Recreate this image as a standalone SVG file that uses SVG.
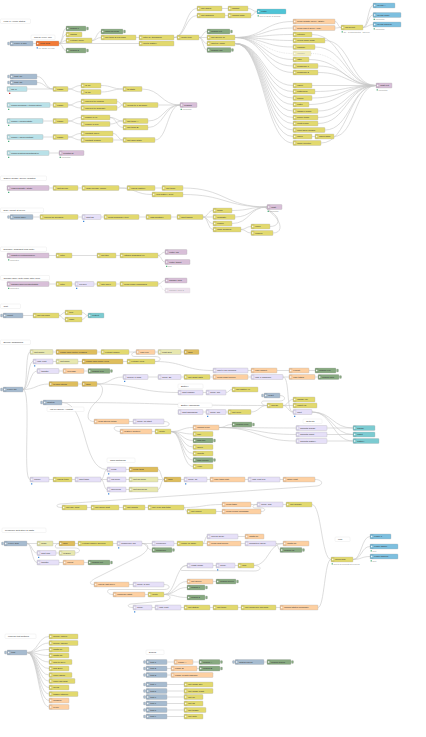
<svg xmlns="http://www.w3.org/2000/svg" xmlns:xlink="http://www.w3.org/1999/xlink" width="426" height="737" viewBox="0 0 426 737">
<style>
.n rect{stroke:#aaa;stroke-width:.3px;rx:.8px;ry:.8px}
.n text{font-family:"Liberation Sans",Arial,sans-serif;font-size:2.4px;fill:#333}
.n text.s{font-size:1.9px;fill:#888}
.cm rect{fill:#fff;stroke:#ddd}
.ij rect{fill:#a6bbcf}.db rect{fill:#87a980}.fn rect{fill:#fdd0a2}.sw rect{fill:#e2d96e}
.pl rect{fill:#e7e7ae}.gd rect{fill:#debd5c}.lv rect{fill:#e6e0f8}.pu rect{fill:#d8bfd8}
.lc rect{fill:#b9e1e8}.cy rect{fill:#7ccbd1}.bc rect{fill:#4fc4d6}.bl rect{fill:#7dbfdf}.or rect{fill:#f27a36}
.off{opacity:.45}
.sb{fill:#3e88d9}.sg{fill:#4fae7f}.sr{fill:#d02020}
#wires path{fill:none;stroke:#c6c6c6;stroke-width:.6px}
#wires path.d{stroke-dasharray:1 .8;stroke:#d8d8d8}
</style>
<defs>
<g id="i"><path d="M.8 0H3.3V5H.8A.8.8 0 0 1 0 4.2V.8A.8.8 0 0 1 .8 0Z" fill="#000" fill-opacity=".07"/><path d="M1 1.7h1.4v1.6H1z" fill="#fff" fill-opacity=".85"/></g>
</defs>
<rect width="426" height="737" fill="#fff"/>
<g id="wires">
<path d="M33 43.5H36"/><path d="M59 43.5C62.5 43.5 62.5 28.5 66 28.5"/><path d="M59 43.5C62.5 43.5 62.5 34.5 66 34.5"/><path d="M59 43.5C62.5 43.5 62.5 40.5 66 40.5"/><path d="M59 43.5C62.5 43.5 62.5 50.5 66 50.5"/><path d="M59 43.5H139"/>
<path d="M92 40.5C96.5 40.5 96.5 31.5 101 31.5"/><path d="M92 40.5C96.5 40.5 96.5 37.5 101 37.5"/><path d="M136 37.5H139"/><path d="M174 37.5H177"/>
<path d="M174 37.5C185.5 37.5 185.5 8.5 197 8.5"/><path d="M174 37.5C185.5 37.5 185.5 15.5 197 15.5"/>
<path d="M199 37.5C203 37.5 203 31.5 207 31.5"/><path d="M199 37.5H207"/><path d="M199 37.5C203 37.5 203 43.5 207 43.5"/><path d="M199 37.5C203 37.5 203 50 207 50"/>
<path d="M222 8.5H228"/><path d="M248 8.5C252.5 8.5 252.5 11.5 257 11.5"/><path d="M225 15.5H228"/><path d="M251 15.5C254 15.5 254 11.5 257 11.5"/>
<path d="M235 37.5C264 37.5 264 21.5 293 21.5"/><path d="M235 37.5C264 37.5 264 28 293 28"/>
<path d="M235 37.5C264 37.5 264 34.5 293 34.5"/><path d="M235 37.5C264 37.5 264 40.5 293 40.5"/><path d="M235 37.5C264 37.5 264 47 293 47"/><path class="d" d="M235 37.5C264 37.5 264 53.5 293 53.5"/><path d="M235 37.5C264 37.5 264 59.5 293 59.5"/><path d="M235 37.5C264 37.5 264 66 293 66"/><path d="M235 37.5C264 37.5 264 72.5 293 72.5"/>
<path d="M235 43.5C264 43.5 264 85.5 293 85.5"/><path d="M235 43.5C264 43.5 264 91.5 293 91.5"/><path d="M235 43.5C264 43.5 264 98 293 98"/><path d="M235 43.5C264 43.5 264 104.5 293 104.5"/><path d="M235 43.5C264 43.5 264 111 293 111"/><path d="M235 43.5C264 43.5 264 117.5 293 117.5"/><path d="M235 43.5C264 43.5 264 123.5 293 123.5"/><path d="M235 43.5C264 43.5 264 130 293 130"/><path d="M235 43.5C264 43.5 264 136.5 293 136.5"/><path d="M235 43.5C264 43.5 264 143 293 143"/>
<path d="M312 34.5C344 34.5 344 85.5 376 85.5"/><path d="M325 40.5C350.5 40.5 350.5 85.5 376 85.5"/><path d="M315 47C345.5 47 345.5 85.5 376 85.5"/><path class="d" d="M311 53.5C343.5 53.5 343.5 85.5 376 85.5"/><path d="M309 59.5C342.5 59.5 342.5 85.5 376 85.5"/><path d="M318 66C347 66 347 85.5 376 85.5"/><path d="M318 72.5C347 72.5 347 85.5 376 85.5"/>
<path d="M312 85.5H376"/><path d="M315 91.5C345.5 91.5 345.5 85.5 376 85.5"/><path d="M312 98C344 98 344 85.5 376 85.5"/><path d="M309 104.5C342.5 104.5 342.5 85.5 376 85.5"/><path d="M318 111C347 111 347 85.5 376 85.5"/><path d="M318 117.5C347 117.5 347 85.5 376 85.5"/><path d="M318 123.5C347 123.5 347 85.5 376 85.5"/><path d="M325 130C350.5 130 350.5 85.5 376 85.5"/><path d="M312 136.5H315"/><path d="M334 136.5C355 136.5 355 85.5 376 85.5"/><path d="M321 143C348.5 143 348.5 85.5 376 85.5"/>
<path d="M335 21.5C338 21.5 338 27.5 341 27.5"/><path d="M335 28C338 28 338 27.5 341 27.5"/>
<path d="M363 27.5C368 27.5 368 5.5 373 5.5"/><path d="M363 27.5C368 27.5 368 15 373 15"/><path d="M363 27.5C368 27.5 368 24.5 373 24.5"/>
<path d="M37 76.5C45 76.5 45 89 53 89"/><path d="M37 82.5C45 82.5 45 89 53 89"/><path d="M27 89H53"/>
<path d="M68 89C74.5 89 74.5 85.5 81 85.5"/><path d="M68 89C74.5 89 74.5 92 81 92"/><path d="M101 85.5C112 85.5 112 89 123 89"/><path d="M101 92C112 92 112 89 123 89"/><path d="M142 89C161 89 161 105 180 105"/>
<path d="M50 105H53"/><path d="M68 105C74.5 105 74.5 101.5 81 101.5"/><path d="M68 105C74.5 105 74.5 108 81 108"/><path d="M117 101.5C120 101.5 120 105 123 105"/><path d="M117 108C120 108 120 105 123 105"/><path d="M158 105H180"/>
<path d="M43 121H53"/><path d="M68 121C74.5 121 74.5 117.5 81 117.5"/><path d="M68 121C74.5 121 74.5 124 81 124"/><path d="M110 117.5C116.5 117.5 116.5 127.5 123 127.5"/><path d="M110 124C116.5 124 116.5 121 123 121"/><path d="M110 117.5C116.5 117.5 116.5 121 123 121"/><path d="M148 121C164 121 164 105 180 105"/><path d="M148 127.5C164 127.5 164 105 180 105"/>
<path d="M43 137H53"/><path d="M68 137C74.5 137 74.5 133.5 81 133.5"/><path d="M68 137C74.5 137 74.5 140 81 140"/><path d="M113 133.5C118 133.5 118 140 123 140"/><path d="M113 140H123"/><path d="M155 140C167.5 140 167.5 105 180 105"/>
<path d="M49 153H59"/>
<path d="M49 188H53"/><path d="M78 188H82"/><path d="M119 188H127"/><path d="M155 188H162"/><path d="M119 188C135.5 188 135.5 194.5 152 194.5"/>
<path d="M183 188C225 188 225 207 267 207"/><path d="M183 194.5C225 194.5 225 207 267 207"/>
<path d="M33 217H40"/><path d="M78 217H82"/><path d="M101 217H104"/><path d="M139 217H146"/><path d="M171 217H177"/>
<path d="M203 217C208 217 208 210.5 213 210.5"/><path d="M203 217H213"/><path d="M203 217C208 217 208 223.5 213 223.5"/><path d="M203 217C208 217 208 229.5 213 229.5"/>
<path d="M232 210.5C249.5 210.5 249.5 207 267 207"/><path d="M235 217C251 217 251 207 267 207"/><path d="M232 223.5C249.5 223.5 249.5 207 267 207"/>
<path d="M241 229.5C246 229.5 246 226.5 251 226.5"/><path d="M241 229.5C246 229.5 246 233 251 233"/>
<path d="M270 226.5C278 226.5 280 221 276 216C272 211 262 207 267 207"/><path d="M273 233C281 233 282 226 277 219C273 213 262 207 267 207"/>
<path d="M49 255.5H56"/><path d="M72 255.5H97"/><path d="M116 255.5H120"/><path d="M158 255.5C161.5 255.5 161.5 252 165 252"/><path d="M158 255.5C161.5 255.5 161.5 262 165 262"/>
<path d="M49 284H56"/><path d="M72 284H75"/><path d="M94 284H97"/><path d="M116 284H120"/><path d="M158 284C161.5 284 161.5 280.5 165 280.5"/><path class="d" d="M158 284C161.5 284 161.5 290.5 165 290.5"/>
<path d="M23 315.5H33"/><path d="M59 315.5C62 315.5 62 312.5 65 312.5"/><path d="M59 315.5C62 315.5 62 319.5 65 319.5"/><path d="M82 312.5C85 312.5 85 315.5 88 315.5"/><path d="M82 319.5C85 319.5 85 315.5 88 315.5"/>
<path d="M23 389.5C28 389.5 25 352 30 352"/><path d="M23 389.5C28 389.5 28 361.5 33 361.5"/><path d="M23 389.5C30 389.5 30 371 37 371"/><path d="M23 389.5C36 389.5 36 384 49 384"/><path d="M23 389.5C32 389.5 22 479.5 30 479.5"/>
<path d="M53 352H56"/><path d="M97 352H101"/><path d="M129 352H136"/><path d="M155 352H158"/><path d="M181 352H184"/>
<path d="M53 361.5H56"/><path d="M78 361.5H82"/><path d="M123 361.5H127"/>
<path d="M155 361.5C162 361.5 162 356.5 155 356.5L135 356.5C130 356.5 131 352 136 352"/>
<path d="M155 361.5C184 361.5 184 370.5 213 370.5"/>
<path d="M59 371H63"/><path d="M84 371H88"/><path d="M78 384H82"/>
<path d="M97 384C110 384 110 377 123 377"/><path d="M97 384C137.5 384 137.5 392.5 178 392.5"/>
<path d="M97 384C105 384 104 395 96 402C88 409 84 421.5 94 421.5"/>
<path d="M148 377H158"/><path d="M181 377H184"/><path d="M210 377H213"/><path d="M248 377H251"/><path d="M283 377H289"/><path d="M315 377H318"/>
<path d="M248 370.5H251"/><path d="M277 370.5H289"/><path d="M309 370.5H315"/>
<path d="M283 377C290 377 286 412 293 412"/>
<path d="M203 392.5H206"/><path d="M226 392.5C229 392.5 229 389.5 232 389.5"/>
<path d="M280 395.5C286 395.5 286 401 280 401L264 401C260 401 261 405.5 267 405.5"/>
<path d="M62 402.5C164 402.5 164 405.5 267 405.5"/><path d="M62 402.5C88 402.5 81 469.5 107 469.5"/>
<path d="M203 412H206"/><path d="M226 412H228"/><path d="M251 412C259 412 259 405.5 267 405.5"/>
<path d="M283 405.5C288 405.5 288 399.5 293 399.5"/><path d="M283 405.5H293"/><path d="M283 405.5C288 405.5 288 412 293 412"/>
<path d="M312 412C332.5 412 332.5 428 353 428"/><path d="M312 412C332.5 412 332.5 434.5 353 434.5"/><path d="M312 412C332.5 412 332.5 441 353 441"/>
<path d="M129 421.5H133"/><path d="M164 421.5C171 421.5 171 426.5 164 426.5L117 426.5C112 426.5 114 431.5 120 431.5"/><path d="M152 431.5H155"/>
<path d="M171 431.5C182 431.5 182 427.5 193 427.5"/><path d="M171 431.5C182 431.5 182 434 193 434"/><path d="M171 431.5C182 431.5 182 440.5 193 440.5"/><path d="M171 431.5C182 431.5 182 447 193 447"/><path d="M171 431.5C182 431.5 182 453.5 193 453.5"/><path d="M171 431.5C182 431.5 182 460 193 460"/><path d="M171 431.5C182 431.5 182 466.5 193 466.5"/>
<path d="M219 427.5C225.5 427.5 225.5 424.5 232 424.5"/><path d="M219 427.5C257.5 427.5 257.5 428 296 428"/><path d="M219 427.5C257.5 427.5 257.5 434.5 296 434.5"/><path d="M219 427.5C257.5 427.5 257.5 441 296 441"/>
<path d="M327 428H353"/><path d="M327 434.5H353"/><path d="M327 441H353"/>
<path d="M49 479.5H53"/><path d="M72 479.5H75"/><path d="M101 479.5C104 479.5 104 469.5 107 469.5"/><path d="M101 479.5H107"/><path d="M101 479.5C104 479.5 104 489.5 107 489.5"/>
<path d="M126 469.5H129"/><path d="M126 479.5H129"/><path d="M126 489.5H129"/>
<path d="M158 469.5C161 469.5 161 479.5 164 479.5"/><path d="M158 479.5H164"/><path d="M158 489.5C161 489.5 161 479.5 164 479.5"/>
<path d="M181 479.5H184"/><path d="M207 479.5H210"/><path d="M245 479.5H248"/><path d="M280 479.5H283"/>
<path d="M315 479.5C323 479.5 324 485 317 486L60 504C55 505 56 507.5 62 507.5"/>
<path d="M87 507.5H91"/><path d="M119 507.5H123"/><path d="M145 507.5H148"/>
<path d="M184 507.5C185.5 507.5 185.5 511.5 187 511.5"/><path d="M184 507.5C203 507.5 203 504.5 222 504.5"/><path d="M216 511.5H222"/>
<path d="M261 511.5C266 511.5 266 508 261 508L255 508C252 508 252 504.5 257 504.5"/>
<path d="M251 504.5H257"/><path d="M283 504.5H286"/>
<path d="M312 504.5C321.5 504.5 321.5 559.5 331 559.5"/>
<path d="M353 559.5C361.5 559.5 361.5 536.5 370 536.5"/><path d="M353 559.5C361.5 559.5 361.5 546.5 370 546.5"/><path d="M353 559.5C361.5 559.5 361.5 556.5 370 556.5"/>
<path d="M318 607.5C324.5 607.5 324.5 559.5 331 559.5"/>
<path d="M27 543.5H37"/><path d="M27 543.5C32 543.5 32 553 37 553"/><path d="M27 543.5C32 543.5 32 562.5 37 562.5"/>
<path d="M53 543.5H59"/><path d="M75 543.5H78"/><path d="M113 543.5H117"/>
<path d="M56 553H59"/><path d="M75 553C81 553 81 548 75 548L57 548C54 548 55 543.5 59 543.5"/>
<path d="M59 562.5H63"/><path d="M84 562.5H88"/>
<path d="M142 543.5H152"/><path d="M142 543.5C147 543.5 147 550 152 550"/><path d="M174 543.5H177"/>
<path d="M203 543.5C205 543.5 205 536.5 207 536.5"/><path d="M203 543.5H207"/>
<path d="M238 536.5H245"/><path d="M241 543.5H245"/><path d="M276 543.5H283"/><path d="M276 543.5C278 543.5 278 550 280 550"/>
<path d="M142 543.5C150 543.5 150 550 140 556L96 578C90 581 88 584.5 94 584.5"/>
<path d="M129 584.5H133"/><path d="M164 584.5C171 584.5 171 589.5 164 589.5L110 589.5C106 589.5 107 594.5 113 594.5"/><path d="M145 594.5H148"/>
<path d="M164 594.5C175.5 594.5 175.5 565.5 187 565.5"/><path d="M164 594.5C175.5 594.5 175.5 581.5 187 581.5"/><path d="M164 594.5C175.5 594.5 175.5 587.5 187 587.5"/><path d="M164 594.5C175.5 594.5 175.5 597.5 187 597.5"/>
<path d="M164 594.5C172 594.5 172 600 164 601L131 604C127 604.5 127 607.5 133 607.5"/>
<path d="M213 565.5H216"/><path d="M235 565.5H238"/>
<path d="M254 565.5C268.5 565.5 268.5 543.5 283 543.5"/>
<path d="M254 565.5C262 565.5 262 571 254 571L182 570.5C179 570.5 181 565.5 187 565.5"/>
<path d="M213 581.5H216"/>
<path d="M152 607.5H155"/><path d="M181 607.5H184"/><path d="M210 607.5H213"/><path d="M238 607.5H241"/><path d="M276 607.5H280"/>
<path d="M27 652.5C38 652.5 38 636.5 49 636.5"/><path d="M27 652.5C38 652.5 38 643 49 643"/><path d="M27 652.5C38 652.5 38 649.5 49 649.5"/><path d="M27 652.5C38 652.5 38 655.5 49 655.5"/><path d="M27 652.5C38 652.5 38 662 49 662"/><path d="M27 652.5C38 652.5 38 668.5 49 668.5"/><path d="M27 652.5C38 652.5 38 675 49 675"/><path d="M27 652.5C38 652.5 38 681 49 681"/><path d="M27 652.5C38 652.5 38 687.5 49 687.5"/><path d="M27 652.5C38 652.5 38 694 49 694"/><path d="M27 652.5C38 652.5 38 700.5 49 700.5"/><path d="M27 652.5C38 652.5 38 707 49 707"/>
<path d="M167 662H174"/><path d="M193 662H199"/><path d="M167 668.5H171"/><path d="M197 668.5H199"/><path d="M167 675H171"/>
<path d="M167 684.5H184"/><path d="M167 691H184"/><path d="M167 697H184"/><path d="M167 703.5H184"/><path d="M167 710H184"/><path d="M167 716.5H184"/>
<path d="M264 662H267"/>
</g>
<g id="nodes">
<!-- section A -->
<g id="cA1" class="n cm" transform="translate(0.5 19)"><rect width="30" height="4.5"/><text x="3" y="3.1">Flow 1: Home status</text></g>
<g id="cA2" class="n cm" transform="translate(31 35)"><rect width="24" height="4.5"/><text x="3" y="3.1">Check every min</text></g>
<g id="a1" class="n ij" transform="translate(10 41)"><rect x="-2.5" y="1" width="2.1" height="3"/><rect width="23" height="5"/><use href="#i"/><text x="4.3" y="3.3">every 1 min</text></g>
<g id="a2" class="n or" transform="translate(36 41)"><rect width="23" height="5"/><use href="#i"/><text x="4.3" y="3.3">ping host</text><path class="sb" d="M.6 6.3h1.3v1.3H.6z"/><text class="s" x="2.6" y="7.5">ok: 12 ms, 0% loss</text></g>
<g id="a3" class="n db" transform="translate(66 26)"><rect width="20" height="5"/><rect x="20.4" y="1" width="2.1" height="3"/><use href="#i"/><text x="4.3" y="3.3">debug 1</text></g>
<g id="a4" class="n sw" transform="translate(66 32)"><rect width="16" height="5"/><use href="#i"/><text x="4.3" y="3.3">switch</text></g>
<g id="a5" class="n sw" transform="translate(66 38)"><rect width="26" height="5"/><use href="#i"/><text x="4.3" y="3.3">extract value</text></g>
<g id="a6" class="n db" transform="translate(66 48)"><rect width="20" height="5"/><rect x="20.4" y="1" width="2.1" height="3"/><use href="#i"/><text x="4.3" y="3.3">debug 2</text></g>
<g id="a7" class="n db" transform="translate(101 29)"><rect width="22" height="5"/><rect x="22.4" y="1" width="2.1" height="3"/><use href="#i"/><text x="4.3" y="3.3">msg.payload</text></g>
<g id="a8" class="n sw" transform="translate(101 35)"><rect width="35" height="5"/><use href="#i"/><text x="4.3" y="3.3">set topic &amp; payload</text></g>
<g id="a9" class="n sw" transform="translate(139 35)"><rect width="35" height="5"/><use href="#i"/><text x="4.3" y="3.3">filter by threshold</text></g>
<g id="a10" class="n sw" transform="translate(139 41)"><rect width="35" height="5"/><use href="#i"/><text x="4.3" y="3.3">log to history</text></g>
<g id="a11" class="n sw" transform="translate(177 35)"><rect width="22" height="5"/><use href="#i"/><text x="4.3" y="3.3">route type</text></g>
<g id="a12" class="n sw" transform="translate(197 6)"><rect width="25" height="5"/><use href="#i"/><text x="4.3" y="3.3">set alarm</text></g>
<g id="a13" class="n sw" transform="translate(228 6)"><rect width="20" height="5"/><use href="#i"/><text x="4.3" y="3.3">format</text></g>
<g id="a14" class="n bc" transform="translate(257 9)"><rect width="29" height="5"/><use href="#i"/><text x="4.3" y="3.3">notify</text><path class="sg" d="M.6 6.3h1.3v1.3H.6z"/><text class="s" x="2.6" y="7.5">sent 14:02:11 (2 devices)</text></g>
<g id="a15" class="n sw" transform="translate(197 13)"><rect width="28" height="5"/><use href="#i"/><text x="4.3" y="3.3">set warning</text></g>
<g id="a16" class="n sw" transform="translate(228 13)"><rect width="23" height="5"/><use href="#i"/><text x="4.3" y="3.3">format msg</text></g>
<g id="a17" class="n db" transform="translate(207 29)"><rect width="23" height="5"/><rect x="23.4" y="1" width="2.1" height="3"/><use href="#i"/><text x="4.3" y="3.3">debug out</text></g>
<g id="a18" class="n sw" transform="translate(207 35)"><rect width="28" height="5"/><use href="#i"/><text x="4.3" y="3.3">set device id</text></g>
<g id="a19" class="n sw" transform="translate(207 41)"><rect width="28" height="5"/><use href="#i"/><text x="4.3" y="3.3">split by room</text></g>
<g id="a20" class="n db" transform="translate(207 47.5)"><rect width="24" height="5"/><rect x="24.4" y="1" width="2.1" height="3"/><use href="#i"/><text x="4.3" y="3.3">debug raw</text></g>
<g id="a21" class="n fn" transform="translate(293 19)"><rect width="42" height="5"/><use href="#i"/><text x="4.3" y="3.3">build update query (state)</text></g>
<g id="a22" class="n fn" transform="translate(293 25.5)"><rect width="42" height="5"/><use href="#i"/><text x="4.3" y="3.3">build insert query (log)</text></g>
<g id="a23" class="n sw" transform="translate(341 25)"><rect width="22" height="5"/><use href="#i"/><text x="4.3" y="3.3">db select</text><path class="sg" d="M.6 6.3h1.3v1.3H.6z"/><text class="s" x="2.6" y="7.5">OK · 3 rows affected · 12:01:09</text></g>
<g id="a24" class="n bl" transform="translate(373 3)"><rect width="22" height="5"/><use href="#i"/><text x="4.3" y="3.3">mysql A</text></g>
<g id="a25" class="n bl" transform="translate(373 12.5)"><rect width="28" height="5"/><use href="#i"/><text x="4.3" y="3.3">mysql main</text><path class="sg" d="M.6 6.3h1.3v1.3H.6z"/><text class="s" x="2.6" y="7.5">connected</text></g>
<g id="a26" class="n bl" transform="translate(373 22)"><rect width="28" height="5"/><use href="#i"/><text x="4.3" y="3.3">mysql backup</text><path class="sg" d="M.6 6.3h1.3v1.3H.6z"/><text class="s" x="2.6" y="7.5">connected</text></g>
<g id="c1" class="n sw" transform="translate(293 32)"><rect width="19" height="5"/><use href="#i"/><text x="4.3" y="3.3">kitchen</text></g>
<g id="c2" class="n sw" transform="translate(293 38)"><rect width="32" height="5"/><use href="#i"/><text x="4.3" y="3.3">living room lamp</text></g>
<g id="c3" class="n sw" transform="translate(293 44.5)"><rect width="22" height="5"/><use href="#i"/><text x="4.3" y="3.3">hallway</text></g>
<g id="c4" class="n sw off" transform="translate(293 51)"><rect width="18" height="5"/><use href="#i"/><text x="4.3" y="3.3">garage</text></g>
<g id="c5" class="n sw" transform="translate(293 57)"><rect width="16" height="5"/><use href="#i"/><text x="4.3" y="3.3">attic</text></g>
<g id="c6" class="n sw" transform="translate(293 63.5)"><rect width="25" height="5"/><use href="#i"/><text x="4.3" y="3.3">bedroom 1</text></g>
<g id="c7" class="n sw" transform="translate(293 70)"><rect width="25" height="5"/><use href="#i"/><text x="4.3" y="3.3">bedroom 2</text></g>
<g id="c8" class="n sw" transform="translate(293 83)"><rect width="19" height="5"/><use href="#i"/><text x="4.3" y="3.3">office</text></g>
<g id="c9" class="n sw" transform="translate(293 89)"><rect width="22" height="5"/><use href="#i"/><text x="4.3" y="3.3">bathroom</text></g>
<g id="c10" class="n sw" transform="translate(293 95.5)"><rect width="19" height="5"/><use href="#i"/><text x="4.3" y="3.3">porch</text></g>
<g id="c11" class="n sw" transform="translate(293 102)"><rect width="16" height="5"/><use href="#i"/><text x="4.3" y="3.3">patio</text></g>
<g id="c12" class="n sw" transform="translate(293 108.5)"><rect width="25" height="5"/><use href="#i"/><text x="4.3" y="3.3">garden pump</text></g>
<g id="c13" class="n sw" transform="translate(293 115)"><rect width="25" height="5"/><use href="#i"/><text x="4.3" y="3.3">boiler temp</text></g>
<g id="c14" class="n sw" transform="translate(293 121)"><rect width="25" height="5"/><use href="#i"/><text x="4.3" y="3.3">heat pump</text></g>
<g id="c15" class="n sw" transform="translate(293 127.5)"><rect width="32" height="5"/><use href="#i"/><text x="4.3" y="3.3">front door sensor</text></g>
<g id="c16" class="n sw" transform="translate(293 134)"><rect width="19" height="5"/><use href="#i"/><text x="4.3" y="3.3">shed</text></g>
<g id="c18" class="n sw" transform="translate(315 134)"><rect width="19" height="5"/><use href="#i"/><text x="4.3" y="3.3">shed lamp</text></g>
<g id="c17" class="n sw" transform="translate(293 140.5)"><rect width="28" height="5"/><use href="#i"/><text x="4.3" y="3.3">solar inverter</text></g>
<g id="ae" class="n pu" transform="translate(376 83)"><rect width="16" height="5"/><use href="#i"/><text x="4.3" y="3.3">mqtt out</text><path class="sg" d="M.6 6.3h1.3v1.3H.6z"/><text class="s" x="2.6" y="7.5">connected</text></g>
<!-- section B -->
<g id="b1" class="n ij" transform="translate(10 74)"><rect x="-2.5" y="1" width="2.1" height="3"/><rect width="27" height="5"/><use href="#i"/><text x="4.3" y="3.3">test: on</text></g>
<g id="b2" class="n ij" transform="translate(10 80)"><rect x="-2.5" y="1" width="2.1" height="3"/><rect width="27" height="5"/><use href="#i"/><text x="4.3" y="3.3">test: off</text></g>
<g id="b3" class="n lc" transform="translate(7 86.5)"><rect width="20" height="5"/><use href="#i"/><text x="4.3" y="3.3">ws in</text><path class="sr" d="M2 6.3h1.3v1.3H2z"/></g>
<g id="b4" class="n sw" transform="translate(53 86.5)"><rect width="15" height="5"/><use href="#i"/><text x="4.3" y="3.3">parse</text></g>
<g id="b5" class="n sw" transform="translate(81 83)"><rect width="20" height="5"/><use href="#i"/><text x="4.3" y="3.3">is on</text></g>
<g id="b6" class="n sw" transform="translate(81 89.5)"><rect width="20" height="5"/><use href="#i"/><text x="4.3" y="3.3">is off</text></g>
<g id="b7" class="n sw" transform="translate(123 86.5)"><rect width="19" height="5"/><use href="#i"/><text x="4.3" y="3.3">to state</text></g>
<g id="b8" class="n lc" transform="translate(7 102.5)"><rect width="43" height="5"/><use href="#i"/><text x="4.3" y="3.3">home/sensors/+/temperature</text><path class="sg" d="M1 6.3h1.3v1.3H1z"/></g>
<g id="b9" class="n sw" transform="translate(53 102.5)"><rect width="15" height="5"/><use href="#i"/><text x="4.3" y="3.3">parse</text></g>
<g id="b10" class="n sw" transform="translate(81 99)"><rect width="36" height="5"/><use href="#i"/><text x="4.3" y="3.3">convert to celsius</text></g>
<g id="b11" class="n sw" transform="translate(81 105.5)"><rect width="36" height="5"/><use href="#i"/><text x="4.3" y="3.3">convert to humidity</text></g>
<g id="b12" class="n sw" transform="translate(123 102.5)"><rect width="35" height="5"/><use href="#i"/><text x="4.3" y="3.3">round to 1 decimal</text></g>
<g id="be" class="n pu" transform="translate(180 102.5)"><rect width="17" height="5"/><use href="#i"/><text x="4.3" y="3.3">publish</text><path class="sg" d="M.6 6.3h1.3v1.3H.6z"/><text class="s" x="2.6" y="7.5">connected</text></g>
<g id="b13" class="n lc" transform="translate(7 118.5)"><rect width="36" height="5"/><use href="#i"/><text x="4.3" y="3.3">home/+/power/state</text><path class="sg" d="M1 6.3h1.3v1.3H1z"/></g>
<g id="b14" class="n sw" transform="translate(53 118.5)"><rect width="15" height="5"/><use href="#i"/><text x="4.3" y="3.3">parse</text></g>
<g id="b15" class="n sw" transform="translate(81 115)"><rect width="29" height="5"/><use href="#i"/><text x="4.3" y="3.3">power in W</text></g>
<g id="b16" class="n sw" transform="translate(81 121.5)"><rect width="29" height="5"/><use href="#i"/><text x="4.3" y="3.3">power in kW</text></g>
<g id="b17" class="n sw" transform="translate(123 118.5)"><rect width="25" height="5"/><use href="#i"/><text x="4.3" y="3.3">set topic A</text></g>
<g id="b18" class="n sw" transform="translate(123 125)"><rect width="25" height="5"/><use href="#i"/><text x="4.3" y="3.3">set topic B</text></g>
<g id="b19" class="n lc" transform="translate(7 134.5)"><rect width="36" height="5"/><use href="#i"/><text x="4.3" y="3.3">home/+/door/contact</text><path class="sg" d="M1 6.3h1.3v1.3H1z"/></g>
<g id="b20" class="n sw" transform="translate(53 134.5)"><rect width="15" height="5"/><use href="#i"/><text x="4.3" y="3.3">parse</text></g>
<g id="b21" class="n sw" transform="translate(81 131)"><rect width="32" height="5"/><use href="#i"/><text x="4.3" y="3.3">contact open</text></g>
<g id="b22" class="n sw" transform="translate(81 137.5)"><rect width="32" height="5"/><use href="#i"/><text x="4.3" y="3.3">contact closed</text></g>
<g id="b23" class="n sw" transform="translate(123 137.5)"><rect width="32" height="5"/><use href="#i"/><text x="4.3" y="3.3">set door state</text></g>
<g id="b24" class="n lc" transform="translate(7 150.5)"><rect width="42" height="5"/><use href="#i"/><text x="4.3" y="3.3">home/system/heartbeat/in</text><path class="sg" d="M1 6.3h1.3v1.3H1z"/></g>
<g id="b25" class="n pu" transform="translate(59 150.5)"><rect width="25" height="5"/><use href="#i"/><text x="4.3" y="3.3">heartbeat</text><path class="sg" d="M.6 6.3h1.3v1.3H.6z"/><text class="s" x="2.6" y="7.5">connected</text></g>
<!-- section C -->
<g id="cC" class="n cm" transform="translate(0.5 176)"><rect width="46" height="4.5"/><text x="3" y="3.1">Zigbee bridge: device updates</text></g>
<g id="k1" class="n pu" transform="translate(7 185.5)"><rect width="42" height="5"/><use href="#i"/><text x="4.3" y="3.3">zigbee2mqtt/+/state</text><path class="sg" d="M1 6.3h1.3v1.3H1z"/></g>
<g id="k2" class="n sw" transform="translate(53 185.5)"><rect width="25" height="5"/><use href="#i"/><text x="4.3" y="3.3">get device</text></g>
<g id="k3" class="n sw" transform="translate(82 185.5)"><rect width="37" height="5"/><use href="#i"/><text x="4.3" y="3.3">map friendly name</text></g>
<g id="k4" class="n sw" transform="translate(127 185.5)"><rect width="28" height="5"/><use href="#i"/><text x="4.3" y="3.3">check battery</text></g>
<g id="k5" class="n sw" transform="translate(162 185.5)"><rect width="21" height="5"/><use href="#i"/><text x="4.3" y="3.3">set topic</text></g>
<g id="k6" class="n sw" transform="translate(152 192)"><rect width="31" height="5"/><use href="#i"/><text x="4.3" y="3.3">low battery alert</text></g>
<g id="ce" class="n pu" transform="translate(267 204.5)"><rect width="15" height="5"/><use href="#i"/><text x="4.3" y="3.3">mqtt</text><path class="sg" d="M.6 6.3h1.3v1.3H.6z"/><text class="s" x="2.6" y="7.5">connected</text></g>
<g id="cD" class="n cm" transform="translate(0.5 208)"><rect width="43" height="4.5"/><text x="3" y="3.1">Daily report at 07:00</text></g>
<g id="d1" class="n ij" transform="translate(10 214.5)"><rect x="-2.5" y="1" width="2.1" height="3"/><rect width="23" height="5"/><use href="#i"/><text x="4.3" y="3.3">07:00 daily</text></g>
<g id="d2" class="n sw" transform="translate(40 214.5)"><rect width="38" height="5"/><use href="#i"/><text x="4.3" y="3.3">collect all sensors</text></g>
<g id="d3" class="n lv" transform="translate(82 214.5)"><rect width="19" height="5"/><use href="#i"/><text x="4.3" y="3.3">wait 5s</text><path class="sb" d="M1 6.3h1.3v1.3H1z"/></g>
<g id="d4" class="n sw" transform="translate(104 214.5)"><rect width="35" height="5"/><use href="#i"/><text x="4.3" y="3.3">build summary text</text></g>
<g id="d5" class="n sw" transform="translate(146 214.5)"><rect width="25" height="5"/><use href="#i"/><text x="4.3" y="3.3">add weather</text></g>
<g id="d6" class="n sw" transform="translate(177 214.5)"><rect width="26" height="5"/><use href="#i"/><text x="4.3" y="3.3">split topics</text></g>
<g id="e1" class="n sw" transform="translate(213 208)"><rect width="19" height="5"/><use href="#i"/><text x="4.3" y="3.3">temp</text></g>
<g id="e2" class="n sw" transform="translate(213 214.5)"><rect width="22" height="5"/><use href="#i"/><text x="4.3" y="3.3">humidity</text></g>
<g id="e3" class="n sw" transform="translate(213 221)"><rect width="19" height="5"/><use href="#i"/><text x="4.3" y="3.3">power</text></g>
<g id="e4" class="n sw" transform="translate(213 227)"><rect width="28" height="5"/><use href="#i"/><text x="4.3" y="3.3">door sensors</text></g>
<g id="e5" class="n sw" transform="translate(251 224)"><rect width="19" height="5"/><use href="#i"/><text x="4.3" y="3.3">open</text></g>
<g id="e6" class="n sw" transform="translate(251 230.5)"><rect width="22" height="5"/><use href="#i"/><text x="4.3" y="3.3">closed</text></g>
<!-- section D -->
<g id="cF" class="n cm" transform="translate(0.5 247)"><rect width="46" height="4.5"/><text x="3" y="3.1">Doorbell: snapshot and notify</text></g>
<g id="f1" class="n pu" transform="translate(7 253)"><rect width="42" height="5"/><use href="#i"/><text x="4.3" y="3.3">frigate/events/doorbell</text><path class="sg" d="M1 6.3h1.3v1.3H1z"/><text class="s" x="3" y="7.5">connected</text></g>
<g id="f2" class="n sw" transform="translate(56 253)"><rect width="16" height="5"/><use href="#i"/><text x="4.3" y="3.3">filter</text></g>
<g id="f3" class="n sw" transform="translate(97 253)"><rect width="19" height="5"/><use href="#i"/><text x="4.3" y="3.3">set title</text></g>
<g id="f4" class="n sw" transform="translate(120 253)"><rect width="38" height="5"/><use href="#i"/><text x="4.3" y="3.3">attach snapshot url</text></g>
<g id="f5" class="n pu" transform="translate(165 249.5)"><rect width="22" height="5"/><use href="#i"/><text x="4.3" y="3.3">notify ios</text></g>
<g id="f6" class="n pu" transform="translate(165 259.5)"><rect width="25" height="5"/><use href="#i"/><text x="4.3" y="3.3">notify tablet</text><path class="sg" d="M1 6.3h1.3v1.3H1z"/><text class="s" x="3" y="7.5">sent</text></g>
<g id="cG" class="n cm" transform="translate(0.5 275.5)"><rect width="49" height="4.5"/><text x="3" y="3.1">Garage door: auto close after 10m</text></g>
<g id="g1" class="n pu" transform="translate(7 281.5)"><rect width="42" height="5"/><use href="#i"/><text x="4.3" y="3.3">garage/door/contact/state</text><path class="sg" d="M1 6.3h1.3v1.3H1z"/><text class="s" x="3" y="7.5">connected</text></g>
<g id="g2" class="n sw" transform="translate(56 281.5)"><rect width="16" height="5"/><use href="#i"/><text x="4.3" y="3.3">filter</text></g>
<g id="g3" class="n lv" transform="translate(75 281.5)"><rect width="19" height="5"/><use href="#i"/><text x="4.3" y="3.3">10 min</text><path class="sb" d="M1 6.3h1.3v1.3H1z"/></g>
<g id="g4" class="n sw" transform="translate(97 281.5)"><rect width="19" height="5"/><use href="#i"/><text x="4.3" y="3.3">still open</text></g>
<g id="g5" class="n sw" transform="translate(120 281.5)"><rect width="38" height="5"/><use href="#i"/><text x="4.3" y="3.3">build close command</text></g>
<g id="g6" class="n pu" transform="translate(165 278)"><rect width="22" height="5"/><use href="#i"/><text x="4.3" y="3.3">garage cmd</text></g>
<g id="g7" class="n pu off" transform="translate(165 288)"><rect width="25" height="5"/><use href="#i"/><text x="4.3" y="3.3">garage cmd 2</text></g>
<!-- section E -->
<g id="cH" class="n cm" transform="translate(0.5 304)"><rect width="20" height="4.5"/><text x="3" y="3.1">Test</text></g>
<g id="h1" class="n ij" transform="translate(3 313)"><rect x="-2.5" y="1" width="2.1" height="3"/><rect width="20" height="5"/><use href="#i"/><text x="4.3" y="3.3">inject</text></g>
<g id="h2" class="n sw" transform="translate(33 313)"><rect width="26" height="5"/><use href="#i"/><text x="4.3" y="3.3">set payload</text></g>
<g id="h3" class="n sw" transform="translate(65 310)"><rect width="17" height="5"/><use href="#i"/><text x="4.3" y="3.3">true</text></g>
<g id="h4" class="n sw" transform="translate(65 317)"><rect width="17" height="5"/><use href="#i"/><text x="4.3" y="3.3">false</text></g>
<g id="h5" class="n cy" transform="translate(88 313)"><rect width="16" height="5"/><use href="#i"/><text x="4.3" y="3.3">output</text></g>
<!-- section F -->
<g id="cI" class="n cm" transform="translate(0.5 340)"><rect width="30" height="4.5"/><text x="3" y="3.1">Energy dashboard</text></g>
<g id="i0" class="n ij" transform="translate(3 387)"><rect x="-2.5" y="1" width="2.1" height="3"/><rect width="20" height="5"/><use href="#i"/><text x="4.3" y="3.3">every 5s</text></g>
<g id="i1" class="n pl" transform="translate(30 349.5)"><rect width="23" height="5"/><use href="#i"/><text x="4.3" y="3.3">get meter</text></g>
<g id="i2" class="n gd" transform="translate(56 349.5)"><rect width="41" height="5"/><use href="#i"/><text x="4.3" y="3.3">parse json meter reading</text></g>
<g id="i3" class="n sw" transform="translate(101 349.5)"><rect width="28" height="5"/><use href="#i"/><text x="4.3" y="3.3">extract power</text></g>
<g id="i4" class="n fn" transform="translate(136 349.5)"><rect width="19" height="5"/><use href="#i"/><text x="4.3" y="3.3">calc kW</text></g>
<g id="i5" class="n pl" transform="translate(158 349.5)"><rect width="23" height="5"/><use href="#i"/><text x="4.3" y="3.3">post grid</text></g>
<g id="i6" class="n gd" transform="translate(184 349.5)"><rect width="15" height="5"/><use href="#i"/><text x="4.3" y="3.3">json</text></g>
<g id="i7" class="n lv" transform="translate(33 359)"><rect width="20" height="5"/><use href="#i"/><text x="4.3" y="3.3">rate limit</text><path class="sb" d="M1 6.3h1.3v1.3H1z"/></g>
<g id="i8" class="n pl" transform="translate(56 359)"><rect width="22" height="5"/><use href="#i"/><text x="4.3" y="3.3">get solar</text></g>
<g id="i9" class="n gd" transform="translate(82 359)"><rect width="41" height="5"/><use href="#i"/><text x="4.3" y="3.3">parse json solar yield</text></g>
<g id="i10" class="n sw" transform="translate(127 359)"><rect width="28" height="5"/><use href="#i"/><text x="4.3" y="3.3">extract yield</text></g>
<g id="i11" class="n lv" transform="translate(37 368.5)"><rect width="22" height="5"/><use href="#i"/><text x="4.3" y="3.3">throttle</text></g>
<g id="i12" class="n fn" transform="translate(63 368.5)"><rect width="21" height="5"/><use href="#i"/><text x="4.3" y="3.3">average</text></g>
<g id="i13" class="n db" transform="translate(88 368.5)"><rect width="22" height="5"/><rect x="22.4" y="1" width="2.1" height="3"/><use href="#i"/><text x="4.3" y="3.3">debug avg</text></g>
<g id="i16" class="n gd" transform="translate(49 381.5)"><rect width="29" height="5"/><use href="#i"/><text x="4.3" y="3.3">to json string</text></g>
<g id="i17" class="n gd" transform="translate(82 381.5)"><rect width="15" height="5"/><use href="#i"/><text x="4.3" y="3.3">json</text></g>
<g id="i14" class="n lv" transform="translate(123 374.5)"><rect width="25" height="5"/><use href="#i"/><text x="4.3" y="3.3">queue 1 msg</text><path class="sb" d="M1 6.3h1.3v1.3H1z"/></g>
<g id="i15" class="n lv" transform="translate(158 374.5)"><rect width="23" height="5"/><use href="#i"/><text x="4.3" y="3.3">delay 2s</text></g>
<g id="i15b" class="n sw" transform="translate(184 374.5)"><rect width="26" height="5"/><use href="#i"/><text x="4.3" y="3.3">set chart data</text></g>
<g id="i15c" class="n fn" transform="translate(213 374.5)"><rect width="35" height="5"/><use href="#i"/><text x="4.3" y="3.3">build chart series</text></g>
<g id="i15d" class="n lv" transform="translate(251 374.5)"><rect width="32" height="5"/><use href="#i"/><text x="4.3" y="3.3">rate 1 msg/min</text></g>
<g id="i15e" class="n fn" transform="translate(289 374.5)"><rect width="26" height="5"/><use href="#i"/><text x="4.3" y="3.3">calc totals</text></g>
<g id="i15f" class="n db" transform="translate(318 374.5)"><rect width="21" height="5"/><rect x="21.4" y="1" width="2.1" height="3"/><use href="#i"/><text x="4.3" y="3.3">debug total</text></g>
<g id="j1" class="n lv" transform="translate(213 368)"><rect width="35" height="5"/><use href="#i"/><text x="4.3" y="3.3">limit 1 per second</text></g>
<g id="j2" class="n fn" transform="translate(251 368)"><rect width="26" height="5"/><use href="#i"/><text x="4.3" y="3.3">calc import</text></g>
<g id="j3" class="n fn" transform="translate(289 368)"><rect width="20" height="5"/><use href="#i"/><text x="4.3" y="3.3">export</text></g>
<g id="j4" class="n db" transform="translate(315 368)"><rect width="21" height="5"/><rect x="21.4" y="1" width="2.1" height="3"/><use href="#i"/><text x="4.3" y="3.3">debug exp</text></g>
<g id="cK" class="n cm" transform="translate(178 384)"><rect width="25" height="4.5"/><text x="3" y="3.1">Battery</text></g>
<g id="kk1" class="n lv" transform="translate(178 390)"><rect width="25" height="5"/><use href="#i"/><text x="4.3" y="3.3">wait charge</text></g>
<g id="kk2" class="n lv" transform="translate(206 390)"><rect width="20" height="5"/><use href="#i"/><text x="4.3" y="3.3">delay 1m</text></g>
<g id="kk3" class="n sw" transform="translate(232 387)"><rect width="26" height="5"/><use href="#i"/><text x="4.3" y="3.3">set battery %</text></g>
<g id="kk4" class="n ij" transform="translate(264 393)"><rect x="-2.5" y="1" width="2.1" height="3"/><rect width="16" height="5"/><use href="#i"/><text x="4.3" y="3.3">reset</text></g>
<g id="cK2" class="n cm" transform="translate(178 403)"><rect width="34" height="4.5"/><text x="3" y="3.1">Battery discharge</text></g>
<g id="kk6" class="n lv" transform="translate(178 409.5)"><rect width="25" height="5"/><use href="#i"/><text x="4.3" y="3.3">wait discharge</text></g>
<g id="kk7" class="n lv" transform="translate(206 409.5)"><rect width="20" height="5"/><use href="#i"/><text x="4.3" y="3.3">delay 1m</text><path class="sb" d="M1 6.3h1.3v1.3H1z"/></g>
<g id="kk8" class="n sw" transform="translate(228 409.5)"><rect width="23" height="5"/><use href="#i"/><text x="4.3" y="3.3">set level</text></g>
<g id="kk9" class="n sw" transform="translate(267 403)"><rect width="16" height="5"/><use href="#i"/><text x="4.3" y="3.3">merge</text></g>
<g id="l1" class="n sw" transform="translate(293 397)"><rect width="22" height="5"/><use href="#i"/><text x="4.3" y="3.3">gauge val</text></g>
<g id="l2" class="n sw" transform="translate(293 403)"><rect width="24" height="5"/><use href="#i"/><text x="4.3" y="3.3">chart val</text></g>
<g id="l3" class="n lv" transform="translate(293 409.5)"><rect width="19" height="5"/><use href="#i"/><text x="4.3" y="3.3">limit</text><path class="sb" d="M1 6.3h1.3v1.3H1z"/></g>
<g id="cL" class="n cm" transform="translate(303 419)"><rect width="19" height="4.5"/><text x="3" y="3.1">Outputs</text></g>
<g id="m1" class="n lv" transform="translate(296 425.5)"><rect width="31" height="5"/><use href="#i"/><text x="4.3" y="3.3">smooth gauge</text></g>
<g id="m2" class="n lv" transform="translate(296 432)"><rect width="31" height="5"/><use href="#i"/><text x="4.3" y="3.3">smooth chart</text></g>
<g id="m3" class="n lv" transform="translate(296 438.5)"><rect width="31" height="5"/><use href="#i"/><text x="4.3" y="3.3">smooth history</text></g>
<g id="cy1" class="n cy" transform="translate(353 425.5)"><rect width="22" height="5"/><use href="#i"/><text x="4.3" y="3.3">gauge</text></g>
<g id="cy2" class="n cy" transform="translate(353 432)"><rect width="22" height="5"/><use href="#i"/><text x="4.3" y="3.3">chart</text></g>
<g id="cy3" class="n cy" transform="translate(353 438.5)"><rect width="26" height="5"/><use href="#i"/><text x="4.3" y="3.3">history</text></g>
<g id="i18" class="n ij" transform="translate(43 400)"><rect x="-2.5" y="1" width="2.1" height="3"/><rect width="19" height="5"/><use href="#i"/><text x="4.3" y="3.3">startup</text></g>
<g id="cI2" class="n cm" transform="translate(47 407)"><rect width="37" height="4.5"/><text x="3" y="3.1">Init on deploy / restart</text></g>
<g id="p1" class="n fn" transform="translate(94 419)"><rect width="35" height="5"/><use href="#i"/><text x="4.3" y="3.3">load stored totals</text></g>
<g id="p2" class="n lv" transform="translate(133 419)"><rect width="31" height="5"/><use href="#i"/><text x="4.3" y="3.3">delay on start</text></g>
<g id="p3" class="n fn" transform="translate(120 429)"><rect width="32" height="5"/><use href="#i"/><text x="4.3" y="3.3">restore context</text></g>
<g id="p4" class="n sw" transform="translate(155 429)"><rect width="16" height="5"/><use href="#i"/><text x="4.3" y="3.3">route</text></g>
<g id="q1" class="n fn" transform="translate(193 425)"><rect width="26" height="5"/><use href="#i"/><text x="4.3" y="3.3">format kWh</text></g>
<g id="q2" class="n sw" transform="translate(193 431.5)"><rect width="20" height="5"/><use href="#i"/><text x="4.3" y="3.3">day</text></g>
<g id="q3" class="n db" transform="translate(193 438)"><rect width="20" height="5"/><rect x="20.4" y="1" width="2.1" height="3"/><use href="#i"/><text x="4.3" y="3.3">dbg day</text></g>
<g id="q4" class="n sw" transform="translate(193 444.5)"><rect width="20" height="5"/><use href="#i"/><text x="4.3" y="3.3">week</text></g>
<g id="q5" class="n sw" transform="translate(193 451)"><rect width="20" height="5"/><use href="#i"/><text x="4.3" y="3.3">month</text></g>
<g id="q6" class="n db" transform="translate(193 457.5)"><rect width="20" height="5"/><rect x="20.4" y="1" width="2.1" height="3"/><use href="#i"/><text x="4.3" y="3.3">dbg month</text></g>
<g id="q7" class="n sw" transform="translate(193 464)"><rect width="20" height="5"/><use href="#i"/><text x="4.3" y="3.3">year</text></g>
<g id="gq" class="n db" transform="translate(232 422)"><rect width="20" height="5"/><rect x="20.4" y="1" width="2.1" height="3"/><use href="#i"/><text x="4.3" y="3.3">debug kWh</text></g>
<g id="cN" class="n cm" transform="translate(107 458)"><rect width="28" height="4.5"/><text x="3" y="3.1">Tariff switching</text></g>
<g id="n1" class="n lv" transform="translate(107 467)"><rect width="19" height="5"/><use href="#i"/><text x="4.3" y="3.3">peak</text><path class="sb" d="M1 6.3h1.3v1.3H1z"/></g>
<g id="n2" class="n gd" transform="translate(129 467)"><rect width="29" height="5"/><use href="#i"/><text x="4.3" y="3.3">peak tariff</text></g>
<g id="n3" class="n lv" transform="translate(30 477)"><rect width="19" height="5"/><use href="#i"/><text x="4.3" y="3.3">hourly</text><path class="sb" d="M1 6.3h1.3v1.3H1z"/></g>
<g id="n4" class="n sw" transform="translate(53 477)"><rect width="19" height="5"/><use href="#i"/><text x="4.3" y="3.3">check time</text></g>
<g id="n5" class="n lv" transform="translate(75 477)"><rect width="26" height="5"/><use href="#i"/><text x="4.3" y="3.3">split tariff</text></g>
<g id="n6" class="n lv" transform="translate(107 477)"><rect width="19" height="5"/><use href="#i"/><text x="4.3" y="3.3">off-peak</text></g>
<g id="n7" class="n pl" transform="translate(129 477)"><rect width="29" height="5"/><use href="#i"/><text x="4.3" y="3.3">get off-peak</text></g>
<g id="n8" class="n lv" transform="translate(107 487)"><rect width="19" height="5"/><use href="#i"/><text x="4.3" y="3.3">weekend</text><path class="sb" d="M1 6.3h1.3v1.3H1z"/></g>
<g id="n9" class="n pl" transform="translate(129 487)"><rect width="29" height="5"/><use href="#i"/><text x="4.3" y="3.3">get weekend</text></g>
<g id="n10" class="n gd" transform="translate(164 477)"><rect width="17" height="5"/><use href="#i"/><text x="4.3" y="3.3">json</text></g>
<g id="n11" class="n lv" transform="translate(184 477)"><rect width="23" height="5"/><use href="#i"/><text x="4.3" y="3.3">delay 1s</text><path class="sb" d="M1 6.3h1.3v1.3H1z"/></g>
<g id="n12" class="n fn" transform="translate(210 477)"><rect width="35" height="5"/><use href="#i"/><text x="4.3" y="3.3">calc tariff cost</text></g>
<g id="n13" class="n lv" transform="translate(248 477)"><rect width="32" height="5"/><use href="#i"/><text x="4.3" y="3.3">rate limit 1/h</text></g>
<g id="n14" class="n fn" transform="translate(283 477)"><rect width="32" height="5"/><use href="#i"/><text x="4.3" y="3.3">store cost</text></g>
<g id="r1" class="n sw" transform="translate(62 505)"><rect width="25" height="5"/><use href="#i"/><text x="4.3" y="3.3">set day cost</text></g>
<g id="r2" class="n sw" transform="translate(91 505)"><rect width="28" height="5"/><use href="#i"/><text x="4.3" y="3.3">set week cost</text></g>
<g id="r3" class="n sw" transform="translate(123 505)"><rect width="22" height="5"/><use href="#i"/><text x="4.3" y="3.3">set month</text></g>
<g id="r4" class="n sw" transform="translate(148 505)"><rect width="36" height="5"/><use href="#i"/><text x="4.3" y="3.3">set year and total</text></g>
<g id="r5" class="n sw" transform="translate(187 509)"><rect width="29" height="5"/><use href="#i"/><text x="4.3" y="3.3">set report</text></g>
<g id="r6" class="n fn" transform="translate(222 509)"><rect width="39" height="5"/><use href="#i"/><text x="4.3" y="3.3">build report message</text></g>
<g id="r7" class="n fn" transform="translate(222 502)"><rect width="29" height="5"/><use href="#i"/><text x="4.3" y="3.3">build table</text></g>
<g id="r8" class="n lv" transform="translate(257 502)"><rect width="26" height="5"/><use href="#i"/><text x="4.3" y="3.3">delay 10s</text></g>
<g id="r9" class="n sw" transform="translate(286 502)"><rect width="26" height="5"/><use href="#i"/><text x="4.3" y="3.3">set header</text></g>
<g id="cS" class="n cm" transform="translate(335 537)"><rect width="15" height="4.5"/><text x="3" y="3.1">Mail</text></g>
<g id="s1" class="n sw" transform="translate(331 557)"><rect width="22" height="5"/><use href="#i"/><text x="4.3" y="3.3">send mail</text><path class="sg" d="M.6 6.3h1.3v1.3H.6z"/><text class="s" x="2.6" y="7.5">sent to 2 recipients at 07:00:05</text></g>
<g id="s2" class="n bl" transform="translate(370 534)"><rect width="21" height="5"/><use href="#i"/><text x="4.3" y="3.3">email 1</text></g>
<g id="s3" class="n bl" transform="translate(370 544)"><rect width="28" height="5"/><use href="#i"/><text x="4.3" y="3.3">email admin</text><path class="sg" d="M.6 6.3h1.3v1.3H.6z"/><text class="s" x="2.6" y="7.5">sent</text></g>
<g id="s4" class="n bl" transform="translate(370 554)"><rect width="28" height="5"/><use href="#i"/><text x="4.3" y="3.3">email backup</text><path class="sg" d="M.6 6.3h1.3v1.3H.6z"/><text class="s" x="2.6" y="7.5">sent</text></g>
<!-- section G -->
<g id="cT" class="n cm" transform="translate(2 528)"><rect width="44" height="4.5"/><text x="3" y="3.1">Presence detection &amp; lights</text></g>
<g id="t0" class="n ij" transform="translate(4 541)"><rect x="-2.5" y="1" width="2.1" height="3"/><rect width="23" height="5"/><use href="#i"/><text x="4.3" y="3.3">every 30s</text></g>
<g id="t1" class="n pl" transform="translate(37 541)"><rect width="16" height="5"/><use href="#i"/><text x="4.3" y="3.3">scan</text></g>
<g id="t2" class="n gd" transform="translate(59 541)"><rect width="16" height="5"/><use href="#i"/><text x="4.3" y="3.3">json</text></g>
<g id="t3" class="n sw" transform="translate(78 541)"><rect width="35" height="5"/><use href="#i"/><text x="4.3" y="3.3">extract phone devices</text></g>
<g id="t4" class="n lv" transform="translate(117 541)"><rect width="25" height="5"/><use href="#i"/><text x="4.3" y="3.3">debounce 1m</text><path class="sb" d="M1 6.3h1.3v1.3H1z"/></g>
<g id="t5" class="n lv" transform="translate(152 541)"><rect width="22" height="5"/><use href="#i"/><text x="4.3" y="3.3">presence</text></g>
<g id="t6" class="n sw" transform="translate(177 541)"><rect width="26" height="5"/><use href="#i"/><text x="4.3" y="3.3">home or away</text></g>
<g id="t7" class="n lv" transform="translate(207 534)"><rect width="31" height="5"/><use href="#i"/><text x="4.3" y="3.3">arrival delay</text></g>
<g id="t8" class="n fn" transform="translate(207 541)"><rect width="34" height="5"/><use href="#i"/><text x="4.3" y="3.3">build light scene</text></g>
<g id="t9" class="n db" transform="translate(152 547.5)"><rect width="20" height="5"/><rect x="20.4" y="1" width="2.1" height="3"/><use href="#i"/><text x="4.3" y="3.3">presence</text></g>
<g id="t10" class="n fn" transform="translate(245 534)"><rect width="19" height="5"/><use href="#i"/><text x="4.3" y="3.3">lights on</text></g>
<g id="t11" class="n lv" transform="translate(245 541)"><rect width="31" height="5"/><use href="#i"/><text x="4.3" y="3.3">departure delay</text></g>
<g id="t12" class="n fn" transform="translate(283 541)"><rect width="26" height="5"/><use href="#i"/><text x="4.3" y="3.3">lights off</text></g>
<g id="t13" class="n db" transform="translate(280 547.5)"><rect width="22" height="5"/><rect x="22.4" y="1" width="2.1" height="3"/><use href="#i"/><text x="4.3" y="3.3">debug off</text></g>
<g id="t14" class="n lv" transform="translate(37 550.5)"><rect width="19" height="5"/><use href="#i"/><text x="4.3" y="3.3">wait 10s</text><path class="sb" d="M1 6.3h1.3v1.3H1z"/></g>
<g id="t15" class="n pl" transform="translate(59 550.5)"><rect width="16" height="5"/><use href="#i"/><text x="4.3" y="3.3">rescan</text></g>
<g id="t16" class="n lv" transform="translate(37 560)"><rect width="22" height="5"/><use href="#i"/><text x="4.3" y="3.3">throttle</text></g>
<g id="t17" class="n fn" transform="translate(63 560)"><rect width="21" height="5"/><use href="#i"/><text x="4.3" y="3.3">count</text></g>
<g id="t18" class="n db" transform="translate(88 560)"><rect width="22" height="5"/><rect x="22.4" y="1" width="2.1" height="3"/><use href="#i"/><text x="4.3" y="3.3">debug cnt</text></g>
<g id="u0" class="n fn" transform="translate(94 582)"><rect width="35" height="5"/><use href="#i"/><text x="4.3" y="3.3">check last seen</text></g>
<g id="u01" class="n lv" transform="translate(133 582)"><rect width="31" height="5"/><use href="#i"/><text x="4.3" y="3.3">delay 5 min</text></g>
<g id="u02" class="n fn" transform="translate(113 592)"><rect width="32" height="5"/><use href="#i"/><text x="4.3" y="3.3">compare state</text></g>
<g id="u03" class="n sw" transform="translate(148 592)"><rect width="16" height="5"/><use href="#i"/><text x="4.3" y="3.3">route</text></g>
<g id="u1" class="n lv" transform="translate(187 563)"><rect width="26" height="5"/><use href="#i"/><text x="4.3" y="3.3">night mode</text></g>
<g id="u1b" class="n lv" transform="translate(216 563)"><rect width="19" height="5"/><use href="#i"/><text x="4.3" y="3.3">delay</text><path class="sb" d="M1 6.3h1.3v1.3H1z"/></g>
<g id="u2" class="n sw" transform="translate(238 563)"><rect width="16" height="5"/><use href="#i"/><text x="4.3" y="3.3">dim</text></g>
<g id="pk" class="n fn" transform="translate(187 579)"><rect width="26" height="5"/><use href="#i"/><text x="4.3" y="3.3">set scene</text></g>
<g id="gk2" class="n db" transform="translate(216 579)"><rect width="20" height="5"/><rect x="20.4" y="1" width="2.1" height="3"/><use href="#i"/><text x="4.3" y="3.3">debug scene</text></g>
<g id="gk1" class="n db" transform="translate(187 585)"><rect width="18" height="5"/><rect x="18.4" y="1" width="2.1" height="3"/><use href="#i"/><text x="4.3" y="3.3">debug 1</text></g>
<g id="gk3" class="n db" transform="translate(187 595)"><rect width="18" height="5"/><rect x="18.4" y="1" width="2.1" height="3"/><use href="#i"/><text x="4.3" y="3.3">debug 2</text></g>
<g id="v1" class="n lv" transform="translate(133 605)"><rect width="19" height="5"/><use href="#i"/><text x="4.3" y="3.3">delay</text><path class="sb" d="M1 6.3h1.3v1.3H1z"/></g>
<g id="v2" class="n lv" transform="translate(155 605)"><rect width="26" height="5"/><use href="#i"/><text x="4.3" y="3.3">rate limit</text></g>
<g id="v3" class="n sw" transform="translate(184 605)"><rect width="26" height="5"/><use href="#i"/><text x="4.3" y="3.3">set status</text></g>
<g id="v4" class="n sw" transform="translate(213 605)"><rect width="25" height="5"/><use href="#i"/><text x="4.3" y="3.3">set topic</text></g>
<g id="v5" class="n sw" transform="translate(241 605)"><rect width="35" height="5"/><use href="#i"/><text x="4.3" y="3.3">set presence payload</text></g>
<g id="v6" class="n fn" transform="translate(280 605)"><rect width="38" height="5"/><use href="#i"/><text x="4.3" y="3.3">format status message</text></g>
<!-- section H -->
<g id="cW" class="n cm" transform="translate(5 634)"><rect width="31" height="4.5"/><text x="3" y="3.1">Manual test buttons</text></g>
<g id="w0" class="n ij" transform="translate(7 650)"><rect x="-2.5" y="1" width="2.1" height="3"/><rect width="20" height="5"/><use href="#i"/><text x="4.3" y="3.3">test</text></g>
<g id="w1" class="n sw" transform="translate(49 634)"><rect width="29" height="5"/><use href="#i"/><text x="4.3" y="3.3">scene: movie</text></g>
<g id="w2" class="n sw" transform="translate(49 640.5)"><rect width="29" height="5"/><use href="#i"/><text x="4.3" y="3.3">scene: dinner</text></g>
<g id="w3" class="n sw" transform="translate(49 647)"><rect width="20" height="5"/><use href="#i"/><text x="4.3" y="3.3">lights on</text></g>
<g id="w4" class="n sw" transform="translate(49 653)"><rect width="20" height="5"/><use href="#i"/><text x="4.3" y="3.3">lights off</text></g>
<g id="w5" class="n sw" transform="translate(49 659.5)"><rect width="23" height="5"/><use href="#i"/><text x="4.3" y="3.3">dim to 50%</text></g>
<g id="w6" class="n sw" transform="translate(49 666)"><rect width="20" height="5"/><use href="#i"/><text x="4.3" y="3.3">dim 20%</text></g>
<g id="w7" class="n sw" transform="translate(49 672.5)"><rect width="23" height="5"/><use href="#i"/><text x="4.3" y="3.3">color warm</text></g>
<g id="w8" class="n sw" transform="translate(49 678.5)"><rect width="26" height="5"/><use href="#i"/><text x="4.3" y="3.3">color daylight</text></g>
<g id="w9" class="n sw" transform="translate(49 685)"><rect width="20" height="5"/><use href="#i"/><text x="4.3" y="3.3">all off</text></g>
<g id="w10" class="n sw" transform="translate(49 691.5)"><rect width="29" height="5"/><use href="#i"/><text x="4.3" y="3.3">toggle kitchen</text></g>
<g id="w11" class="n fn" transform="translate(49 698)"><rect width="20" height="5"/><use href="#i"/><text x="4.3" y="3.3">random</text></g>
<g id="w12" class="n fn" transform="translate(49 704.5)"><rect width="20" height="5"/><use href="#i"/><text x="4.3" y="3.3">cycle</text></g>
<g id="cX" class="n cm" transform="translate(146 650)"><rect width="18" height="4.5"/><text x="3" y="3.1">Debug</text></g>
<g id="x1" class="n ij" transform="translate(146 659.5)"><rect x="-2.5" y="1" width="2.1" height="3"/><rect width="21" height="5"/><use href="#i"/><text x="4.3" y="3.3">test 1</text></g>
<g id="x2" class="n ij" transform="translate(146 666)"><rect x="-2.5" y="1" width="2.1" height="3"/><rect width="21" height="5"/><use href="#i"/><text x="4.3" y="3.3">test 2</text></g>
<g id="x3" class="n ij" transform="translate(146 672.5)"><rect x="-2.5" y="1" width="2.1" height="3"/><rect width="21" height="5"/><use href="#i"/><text x="4.3" y="3.3">test 3</text></g>
<g id="x4" class="n ij" transform="translate(146 682)"><rect x="-2.5" y="1" width="2.1" height="3"/><rect width="21" height="5"/><use href="#i"/><text x="4.3" y="3.3">test 4</text></g>
<g id="x5" class="n ij" transform="translate(146 688.5)"><rect x="-2.5" y="1" width="2.1" height="3"/><rect width="21" height="5"/><use href="#i"/><text x="4.3" y="3.3">test 5</text></g>
<g id="x6" class="n ij" transform="translate(146 694.5)"><rect x="-2.5" y="1" width="2.1" height="3"/><rect width="21" height="5"/><use href="#i"/><text x="4.3" y="3.3">test 6</text></g>
<g id="x7" class="n ij" transform="translate(146 701)"><rect x="-2.5" y="1" width="2.1" height="3"/><rect width="21" height="5"/><use href="#i"/><text x="4.3" y="3.3">test 7</text></g>
<g id="x8" class="n ij" transform="translate(146 707.5)"><rect x="-2.5" y="1" width="2.1" height="3"/><rect width="21" height="5"/><use href="#i"/><text x="4.3" y="3.3">test 8</text></g>
<g id="x9" class="n ij" transform="translate(146 714)"><rect x="-2.5" y="1" width="2.1" height="3"/><rect width="21" height="5"/><use href="#i"/><text x="4.3" y="3.3">test 9</text></g>
<g id="y1a" class="n fn" transform="translate(174 659.5)"><rect width="19" height="5"/><use href="#i"/><text x="4.3" y="3.3">parse A</text></g>
<g id="y1b" class="n db" transform="translate(199 659.5)"><rect width="21" height="5"/><rect x="21.4" y="1" width="2.1" height="3"/><use href="#i"/><text x="4.3" y="3.3">debug A</text></g>
<g id="y2a" class="n fn" transform="translate(171 666)"><rect width="26" height="5"/><use href="#i"/><text x="4.3" y="3.3">parse B</text></g>
<g id="y2b" class="n db" transform="translate(199 666)"><rect width="21" height="5"/><rect x="21.4" y="1" width="2.1" height="3"/><use href="#i"/><text x="4.3" y="3.3">debug B</text></g>
<g id="y3a" class="n fn" transform="translate(171 672.5)"><rect width="42" height="5"/><use href="#i"/><text x="4.3" y="3.3">parse C with fallback</text></g>
<g id="y4" class="n sw" transform="translate(184 682)"><rect width="29" height="5"/><use href="#i"/><text x="4.3" y="3.3">set mode day</text></g>
<g id="y5" class="n sw" transform="translate(184 688.5)"><rect width="29" height="5"/><use href="#i"/><text x="4.3" y="3.3">set mode night</text></g>
<g id="y6" class="n sw" transform="translate(184 694.5)"><rect width="19" height="5"/><use href="#i"/><text x="4.3" y="3.3">set on</text></g>
<g id="y7" class="n sw" transform="translate(184 701)"><rect width="19" height="5"/><use href="#i"/><text x="4.3" y="3.3">set off</text></g>
<g id="y8" class="n sw" transform="translate(184 707.5)"><rect width="22" height="5"/><use href="#i"/><text x="4.3" y="3.3">set toggle</text></g>
<g id="y9" class="n sw" transform="translate(184 714)"><rect width="19" height="5"/><use href="#i"/><text x="4.3" y="3.3">set auto</text></g>
<g id="z1" class="n ij" transform="translate(235 659.5)"><rect x="-2.5" y="1" width="2.1" height="3"/><rect width="29" height="5"/><use href="#i"/><text x="4.3" y="3.3">status check</text></g>
<g id="z2" class="n db" transform="translate(267 659.5)"><rect width="24" height="5"/><rect x="24.4" y="1" width="2.1" height="3"/><use href="#i"/><text x="4.3" y="3.3">debug status</text></g>
</g>
</svg>
